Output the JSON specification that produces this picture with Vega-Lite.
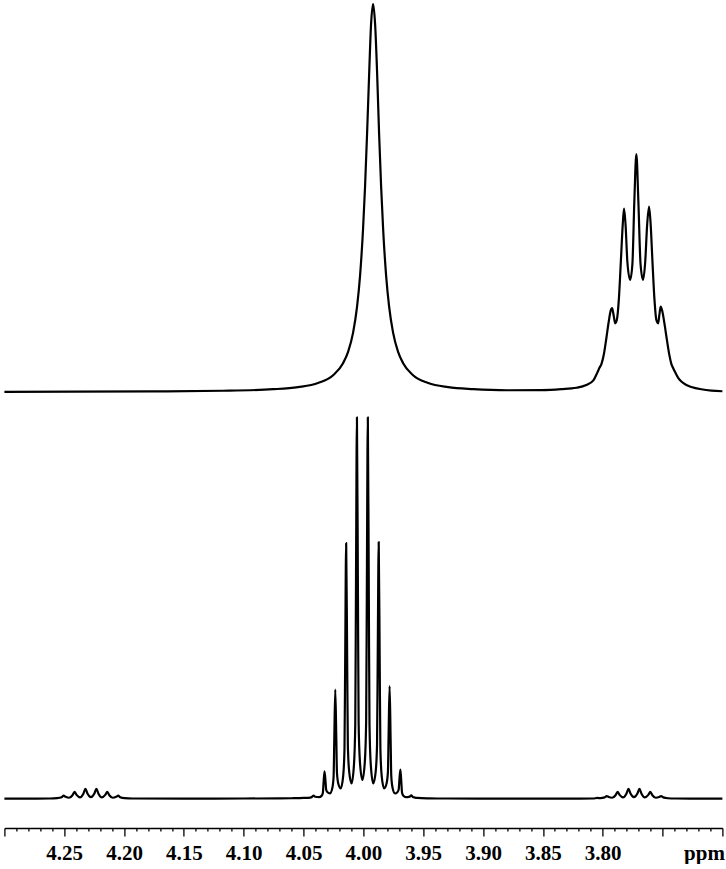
{
 "$schema": "https://vega.github.io/schema/vega-lite/v6.json",
 "padding": {"left": 2.4, "top": 0, "right": 3, "bottom": 0},
 "background": "white",
 "spacing": 10,
 "config": {"view": {"stroke": null}, "line": {"color": "black", "strokeWidth": 2.2, "interpolate": "monotone", "strokeJoin": "round", "clip": true}},
 "datasets": {
  "top": [
   {"ppm":4.30,"i":0.05},{"ppm":4.2426,"i":0.08},{"ppm":4.1757,"i":0.15},{"ppm":4.1172,"i":0.32},{"ppm":4.0755,"i":0.72},{"ppm":4.0546,"i":1.27},{"ppm":4.0379,"i":2.33},{"ppm":4.0253,"i":4.32},{"ppm":4.0170,"i":7.43},{"ppm":4.0128,"i":10.36},{"ppm":4.0086,"i":15.30},{"ppm":4.0053,"i":22.01},{"ppm":4.0028,"i":29.95},{"ppm":4.0003,"i":41.94},{"ppm":3.9986,"i":53.03},{"ppm":3.9969,"i":66.74},{"ppm":3.9952,"i":81.87},{"ppm":3.9936,"i":94.75},{"ppm":3.9919,"i":100},{"ppm":3.9902,"i":94.75},{"ppm":3.9885,"i":81.87},{"ppm":3.9869,"i":66.74},{"ppm":3.9852,"i":53.03},{"ppm":3.9835,"i":41.94},{"ppm":3.9810,"i":29.95},{"ppm":3.9785,"i":22.01},{"ppm":3.9752,"i":15.30},{"ppm":3.9710,"i":10.36},{"ppm":3.9668,"i":7.43},{"ppm":3.9585,"i":4.32},{"ppm":3.9459,"i":2.33},{"ppm":3.9292,"i":1.27},{"ppm":3.9083,"i":0.75},{"ppm":3.88,"i":0.45},{"ppm":3.8513,"i":0.5},{"ppm":3.8346,"i":0.75},{"ppm":3.8220,"i":1.1},{"ppm":3.8137,"i":1.8},{"ppm":3.8078,"i":3.0},{"ppm":3.8045,"i":5.0},{"ppm":3.8026,"i":6.3},{"ppm":3.8011,"i":7.2},{"ppm":3.7990,"i":9.8},{"ppm":3.7970,"i":13.8},{"ppm":3.7949,"i":18.3},{"ppm":3.7934,"i":20.9},{"ppm":3.7922,"i":21.6},{"ppm":3.7909,"i":19.8},{"ppm":3.7896,"i":17.7},{"ppm":3.7882,"i":18.6},{"ppm":3.7865,"i":24},{"ppm":3.7848,"i":34},{"ppm":3.7833,"i":43},{"ppm":3.7822,"i":47.3},{"ppm":3.7809,"i":43},{"ppm":3.7794,"i":33.5},{"ppm":3.7771,"i":28.9},{"ppm":3.7752,"i":33},{"ppm":3.7736,"i":49},{"ppm":3.7719,"i":61.3},{"ppm":3.7702,"i":49},{"ppm":3.7684,"i":33},{"ppm":3.7663,"i":28.9},{"ppm":3.7645,"i":33.5},{"ppm":3.7629,"i":43},{"ppm":3.7613,"i":47.8},{"ppm":3.7600,"i":43.5},{"ppm":3.7585,"i":34},{"ppm":3.7568,"i":24},{"ppm":3.7552,"i":18.6},{"ppm":3.7537,"i":17.7},{"ppm":3.7527,"i":19.8},{"ppm":3.7516,"i":22.0},{"ppm":3.7502,"i":20.8},{"ppm":3.7485,"i":17.8},{"ppm":3.7464,"i":13.5},{"ppm":3.7443,"i":9.5},{"ppm":3.7426,"i":7.2},{"ppm":3.7412,"i":6.2},{"ppm":3.7393,"i":5.0},{"ppm":3.7368,"i":3.6},{"ppm":3.7343,"i":2.7},{"ppm":3.7301,"i":1.8},{"ppm":3.7259,"i":1.3},{"ppm":3.7176,"i":0.7},{"ppm":3.7092,"i":0.35},{"ppm":3.70,"i":0.2}
  ],
  "bottom": [
   {"ppm":4.30,"i":0},{"ppm":4.28,"i":0.03},{"ppm":4.2620,"i":0.05},{"ppm":4.2560,"i":0.15},{"ppm":4.2522,"i":0.4},{"ppm":4.2505,"i":0.8},{"ppm":4.2488,"i":0.5},{"ppm":4.24595,"i":0.25},{"ppm":4.2431,"i":0.9},{"ppm":4.2414,"i":1.8},{"ppm":4.2397,"i":1.0},{"ppm":4.23685,"i":0.35},{"ppm":4.2340,"i":1.3},{"ppm":4.2323,"i":2.6},{"ppm":4.2306,"i":1.35},{"ppm":4.2277,"i":0.4},{"ppm":4.2248,"i":1.35},{"ppm":4.2231,"i":2.6},{"ppm":4.2214,"i":1.3},{"ppm":4.21855,"i":0.35},{"ppm":4.2157,"i":1.0},{"ppm":4.2140,"i":1.8},{"ppm":4.2123,"i":0.9},{"ppm":4.20945,"i":0.25},{"ppm":4.2066,"i":0.5},{"ppm":4.2049,"i":0.8},{"ppm":4.2032,"i":0.4},{"ppm":4.1995,"i":0.15},{"ppm":4.1930,"i":0.05},{"ppm":4.15,"i":0.03},{"ppm":4.10,"i":0.05},{"ppm":4.07,"i":0.08},{"ppm":4.06,"i":0.12},{"ppm":4.05,"i":0.2},{"ppm":4.0445,"i":0.3},{"ppm":4.0430,"i":0.45},{"ppm":4.0416,"i":0.8},{"ppm":4.0403,"i":0.5},{"ppm":4.03705,"i":0.4},{"ppm":4.0350,"i":0.74},{"ppm":4.0339,"i":1.49},{"ppm":4.03334,"i":3.88},{"ppm":4.0325,"i":7.2},{"ppm":4.03166,"i":4.58},{"ppm":4.0311,"i":2.34},{"ppm":4.0300,"i":1.69},{"ppm":4.0280,"i":1.4},{"ppm":4.0260,"i":2.76},{"ppm":4.0249,"i":5.77},{"ppm":4.02434,"i":15.28},{"ppm":4.0235,"i":28.6},{"ppm":4.02266,"i":16.19},{"ppm":4.0221,"i":6.88},{"ppm":4.0210,"i":4.0},{"ppm":4.01895,"i":2.7},{"ppm":4.0169,"i":5.92},{"ppm":4.0158,"i":13.02},{"ppm":4.01524,"i":35.39},{"ppm":4.0144,"i":67},{"ppm":4.01356,"i":36.3},{"ppm":4.0130,"i":14.12},{"ppm":4.0119,"i":7.15},{"ppm":4.0099,"i":4.0},{"ppm":4.0079,"i":8.8},{"ppm":4.0068,"i":19.4},{"ppm":4.00624,"i":52.8},{"ppm":4.0054,"i":100},{"ppm":4.00456,"i":53.43},{"ppm":4.0040,"i":20.17},{"ppm":4.0029,"i":9.66},{"ppm":4.00085,"i":4.9},{"ppm":3.9988,"i":9.66},{"ppm":3.9977,"i":20.17},{"ppm":3.99714,"i":53.43},{"ppm":3.9963,"i":100},{"ppm":3.99546,"i":52.8},{"ppm":3.9949,"i":19.4},{"ppm":3.9938,"i":8.8},{"ppm":3.99175,"i":4.0},{"ppm":3.9897,"i":7.17},{"ppm":3.9886,"i":14.17},{"ppm":3.98804,"i":36.45},{"ppm":3.9872,"i":67.3},{"ppm":3.98636,"i":35.54},{"ppm":3.9858,"i":13.07},{"ppm":3.9847,"i":5.94},{"ppm":3.98265,"i":2.7},{"ppm":3.9806,"i":4.05},{"ppm":3.9795,"i":7.02},{"ppm":3.97894,"i":16.64},{"ppm":3.9781,"i":29.5},{"ppm":3.97726,"i":15.73},{"ppm":3.9767,"i":5.91},{"ppm":3.9756,"i":2.81},{"ppm":3.9736,"i":1.4},{"ppm":3.9716,"i":1.71},{"ppm":3.9705,"i":2.41},{"ppm":3.96994,"i":4.78},{"ppm":3.9691,"i":7.6},{"ppm":3.96826,"i":4.08},{"ppm":3.9677,"i":1.56},{"ppm":3.9666,"i":0.76},{"ppm":3.96455,"i":0.4},{"ppm":3.9613,"i":0.55},{"ppm":3.9600,"i":0.9},{"ppm":3.9587,"i":0.45},{"ppm":3.9570,"i":0.3},{"ppm":3.955,"i":0.2},{"ppm":3.945,"i":0.1},{"ppm":3.93,"i":0.05},{"ppm":3.88,"i":0.03},{"ppm":3.83,"i":0.04},{"ppm":3.8080,"i":0.05},{"ppm":3.8045,"i":0.2},{"ppm":3.8020,"i":0.15},{"ppm":3.7984,"i":0.35},{"ppm":3.7967,"i":0.7},{"ppm":3.7950,"i":0.45},{"ppm":3.79215,"i":0.25},{"ppm":3.7893,"i":0.9},{"ppm":3.7876,"i":1.8},{"ppm":3.7859,"i":1.0},{"ppm":3.78305,"i":0.35},{"ppm":3.7802,"i":1.3},{"ppm":3.7785,"i":2.6},{"ppm":3.7768,"i":1.35},{"ppm":3.7739,"i":0.4},{"ppm":3.7710,"i":1.35},{"ppm":3.7693,"i":2.6},{"ppm":3.7676,"i":1.3},{"ppm":3.76475,"i":0.35},{"ppm":3.7619,"i":1.0},{"ppm":3.7602,"i":1.8},{"ppm":3.7585,"i":0.9},{"ppm":3.75565,"i":0.25},{"ppm":3.7528,"i":0.45},{"ppm":3.7511,"i":0.7},{"ppm":3.7494,"i":0.35},{"ppm":3.7455,"i":0.12},{"ppm":3.7390,"i":0.05},{"ppm":3.72,"i":0.02},{"ppm":3.70,"i":0}
  ]
 },
 "vconcat": [
  {
   "width": 718,
   "height": 400,
   "data": {"name": "top"},
   "mark": {"type": "line"},
   "encoding": {
    "x": {"field": "ppm", "type": "quantitative", "scale": {"domain": [3.70, 4.30], "reverse": true, "nice": false, "zero": false}, "axis": null},
    "y": {"field": "i", "type": "quantitative", "scale": {"domain": [-2.06, 101.03], "nice": false, "zero": false}, "axis": null}
   }
  },
  {
   "width": 718,
   "height": 418,
   "data": {"name": "bottom"},
   "mark": {"type": "line"},
   "encoding": {
    "x": {"field": "ppm", "type": "quantitative", "scale": {"domain": [3.70, 4.30], "reverse": true, "nice": false, "zero": false},
     "axis": {
      "orient": "bottom",
      "grid": false,
      "values": [4.30,4.29,4.28,4.27,4.26,4.25,4.24,4.23,4.22,4.21,4.20,4.19,4.18,4.17,4.16,4.15,4.14,4.13,4.12,4.11,4.10,4.09,4.08,4.07,4.06,4.05,4.04,4.03,4.02,4.01,4.00,3.99,3.98,3.97,3.96,3.95,3.94,3.93,3.92,3.91,3.90,3.89,3.88,3.87,3.86,3.85,3.84,3.83,3.82,3.81,3.80,3.79,3.78,3.77,3.76,3.75,3.74,3.73,3.72,3.71,3.70],
      "domainColor": "black",
      "domainWidth": 1.3,
      "tickColor": "black",
      "tickWidth": 1.3,
      "tickSize": {"condition": {"test": "abs(datum.value*20 - round(datum.value*20)) < 0.01", "value": 8}, "value": 3},
      "labelExpr": "abs(datum.value*20 - round(datum.value*20)) < 0.01 && datum.value < 4.27 && datum.value > 3.77 ? format(datum.value, '.2f') : ''",
      "labelFont": "Liberation Serif",
      "labelFontWeight": "bold",
      "labelFontSize": 21,
      "labelColor": "black",
      "labelPadding": 7,
      "labelOverlap": false,
      "labelFlush": false,
      "title": "ppm",
      "titleFont": "Liberation Serif",
      "titleFontWeight": "bold",
      "titleFontSize": 21,
      "titleColor": "black",
      "titleAlign": "right",
      "titleBaseline": "alphabetic",
      "titleX": 720,
      "titleY": 32
     }
    },
    "y": {"field": "i", "type": "quantitative", "scale": {"domain": [-7.68, 101.9], "nice": false, "zero": false}, "axis": null}
   }
  }
 ]
}
